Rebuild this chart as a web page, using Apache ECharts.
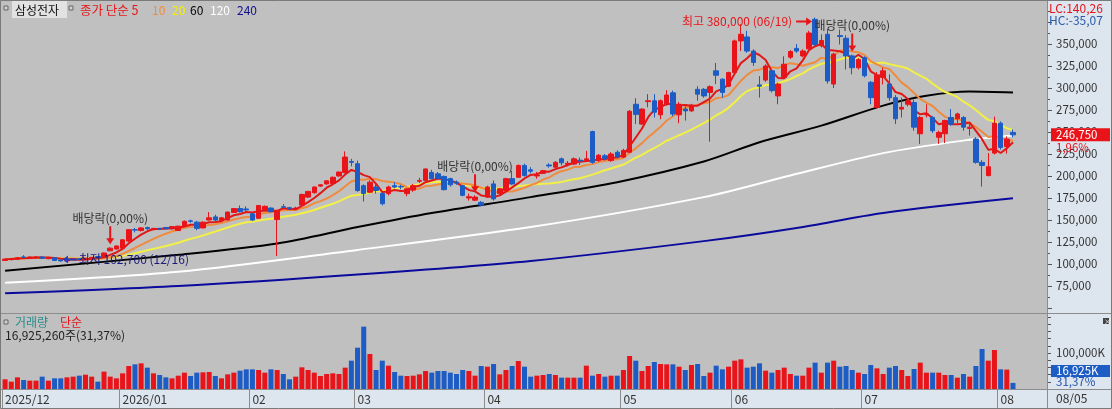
<!DOCTYPE html>
<html><head><meta charset="utf-8">
<script src="https://cdn.jsdelivr.net/npm/echarts@6/dist/echarts.min.js"></script>
<style>html,body{margin:0;padding:0;background:#c0c0c0}#c{width:1112px;height:409px}</style>
</head><body><div id="c"></div>
<script>
// ---- data (won) ----
const opens=[104000,105000,105500,108000,106500,107000,108000,106000,107000,104500,
103500,105000,106000,105000,106000,108500,108000,115000,117000,118000,
126000,139000,138000,141500,139000,140500,141500,140000,138000,142500,
149000,147500,141000,150000,153500,149500,150000,158500,163000,162500,
157000,152000,161500,163500,150500,165000,164000,162500,167000,176000,
181000,188500,191000,191500,200000,204000,216500,214000,189000,181500,
187500,180000,180000,189000,188000,180000,184000,194000,195000,204000,
202500,199500,197000,193000,189000,175000,172500,170000,176000,191000,
180000,183500,197000,198500,212000,207000,200000,203000,212500,210000,
219500,213000,213500,218000,218000,250500,217500,223000,217500,227000,
221500,227000,281500,259000,284500,285500,269500,281000,294500,269500,
276000,274000,298500,298500,295000,319500,310000,302000,317500,353500,
358000,342000,303500,309000,319500,291000,312000,335000,345000,336500,
344500,378000,348000,361000,304500,359500,356500,336500,323000,334500,
306500,278000,312000,304500,289000,276000,281500,283500,248000,269500,
266500,244000,248000,266500,265000,266500,254000,242000,215500,200500,
226000,260000,233500,249500];
const highs=[106000,106500,107500,110000,108500,108500,109000,108000,107500,105000,
105500,106500,106500,107000,108000,109000,113000,119000,121000,128000,
139500,141000,142000,142500,141000,141000,142000,143000,143500,149500,
150500,149000,148500,159000,156000,153500,159500,163500,166500,165500,
158000,167000,166500,164500,161500,168000,165000,165000,180000,183000,
188000,190500,195000,199500,205000,228000,219500,217500,190500,195000,
191000,181000,189000,193000,190000,186000,191000,198000,208500,207000,
204500,200500,198000,195000,190000,180000,178000,171500,189000,195000,
186500,198000,206000,213000,214000,210000,204500,207000,214500,217000,
221000,217000,221000,221000,228500,251500,225000,225000,227000,229000,
231000,275000,288500,277000,293000,293000,287000,297500,297000,284000,
279000,282000,302000,300000,303000,328500,311000,318500,355000,372500,
365000,344000,313500,327000,321000,306000,336000,343000,350000,344000,
365000,380000,361000,367000,340000,366500,360000,338000,334000,336000,
308000,318000,323000,315500,292000,289000,287000,287000,268000,281500,
268000,251500,264000,276000,272000,268000,259000,244000,218000,226000,
267500,262000,245000,253000];
const lows=[103500,104000,105000,106500,106000,106000,106000,105500,103500,102700,
103000,104500,104500,104500,105500,106500,107500,114500,116500,117500,
125000,136000,137000,139000,138500,138500,139000,139500,137500,142000,
147000,138500,140500,149500,149000,148500,149500,158000,158500,160000,
149000,151500,160500,158500,109000,162500,161000,161500,165500,175000,
180000,187500,190000,191000,199000,203000,211000,182000,171000,180500,
180000,166700,178000,186000,185000,177000,182000,192000,194000,196000,
196000,183500,188000,190000,177000,172000,171500,165500,175000,172000,
178000,182500,190000,198000,199500,203000,197000,202000,209500,209000,
212000,211000,212500,212500,216000,214000,216000,218000,216000,220000,
220500,226000,259000,258000,278000,266500,264500,280000,268000,260000,
263000,273000,285500,289000,239000,304500,289000,301000,316000,342000,
340000,325000,289000,307000,295000,281500,310000,333000,340000,335000,
343000,348000,346000,305000,300000,349500,321000,315500,321000,312000,
281500,277000,304000,285500,259000,266500,279000,251500,236500,266500,
249000,236500,237500,257000,260000,251500,246000,214000,188000,199500,
224500,230000,225500,244000];
const closes=[105500,106000,107000,107500,108000,108000,106500,107500,104000,103500,
105000,106000,105000,106500,107500,107000,112500,118000,120500,127500,
139000,138500,141000,140000,140500,139500,140000,142500,143000,148500,
148500,140500,147500,152500,150000,152500,159000,163000,159500,161500,
150000,166500,165500,159500,160500,164500,162500,163500,179000,182500,
187500,190000,194500,198500,204500,221500,215500,183500,180000,193000,
183500,168500,187500,187500,187500,185500,189000,195000,208000,197000,
197000,184500,190000,192000,178000,176500,176000,167000,187500,174000,
185500,197000,191000,212000,200500,205500,201000,206000,211500,215500,
215000,214500,219500,217000,219500,215500,223500,220000,225000,221500,
229000,273500,270000,276000,285500,272500,285500,292000,270500,281500,
274000,280500,293000,291000,301500,314500,295000,317500,353500,361000,
342000,329000,302000,325000,297000,304500,327000,341500,342000,342000,
362500,349500,354000,308000,338500,358500,336500,323000,332500,314000,
289000,314500,319500,289000,265000,278000,285500,255500,266500,270500,
251500,249500,263000,259000,270500,255500,255500,215500,212000,210500,
260000,232500,242000,246750];
// volume in thousands of shares
const volumes=[26900,20400,32400,25000,23200,23200,34300,23200,29600,29600,
32400,34300,37000,39800,34300,20400,48200,34300,29600,43500,
63900,68500,71300,59300,43500,38900,32400,29600,37000,45400,
36100,45400,46300,47200,36100,29600,40700,45400,50900,54600,
54600,52800,45400,54600,52800,41700,26900,34300,60200,52800,
45400,36100,41700,43500,41700,59300,78700,114800,173200,97200,
52800,78700,64800,47200,37000,36100,37000,40700,50000,45400,
50000,50000,45400,41700,52800,50000,37000,63900,62000,69400,
40700,52800,63900,77800,62000,34300,37000,38900,41700,38900,
31500,31500,31500,31500,64800,37000,41700,34300,37000,37000,
52800,91700,78700,50000,63900,75000,69400,68500,68500,62000,
52800,66700,69400,36100,45400,64800,54600,62000,78700,82400,
59300,62000,71300,50900,45400,52800,59300,41700,37000,37000,
59300,73200,45400,73200,78700,62000,63900,52800,45400,41700,
66700,57400,41700,59300,63900,52800,36100,55600,73200,45400,
45400,45400,38900,38900,31500,41700,34300,63900,111100,78700,
108300,54600,53954,16925.26];
// long moving averages at a few days: [dayIndex, value]
const ma60Pts=[[0,92300],[28,110500],[44,123300],[57,142000],[69,158000],[85,176000],[99,193000],[113,216500],[122,238300],[132,257200],[142,280000],[149,291200],[156,296000],[163,294900]];
const ma120Pts=[[0,78700],[28,91200],[57,116000],[85,142000],[113,176000],[127,200600],[142,226000],[155,240200],[163,246000]];
const ma240Pts=[[0,66700],[28,75000],[57,88000],[85,103500],[113,126000],[128,141000],[142,158000],[163,174600]];
const monthStarts=[0,19,40,57,78,100,118,139,161];
const monthLabels=['2025/12','2026/01','02','03','04','05','06','07','08'];
const exDivIdx=[17,76,137];
const highDate='06/19', lowDate='12/16', lastDate='08/05';

// ---- build ----
const FONT='"Noto Sans CJK KR","Noto Sans",sans-serif';
const RED='#e8141a', BLUE='#1c5cc4';
const N=closes.length, SLOTS=N+5;
const cats=[]; for(let i=0;i<SLOTS;i++) cats.push(String(i));
const candle=opens.map((o,i)=>[o,closes[i],lows[i],highs[i]]);
const up=i=>closes[i]>=opens[i];
const volData=volumes.map((v,i)=>({value:v,itemStyle:{color:up(i)?RED:BLUE}}));
function ma(n){return closes.map((c,i)=>{const s=Math.max(0,i-n+1);let sum=0;for(let k=s;k<=i;k++)sum+=closes[k];return Math.round(sum/(i-s+1));});}
const fmt=v=>Math.round(v).toLocaleString('en-US');
const dec=v=>v.toFixed(2).replace('.',',');
let hiI=0,loI=0;
for(let i=0;i<N;i++){if(highs[i]>highs[hiI])hiI=i;if(lows[i]<lows[loI])loI=i;}
const pts=a=>a.map(p=>[String(p[0]),p[1]]);
const isMonth=idx=>monthStarts.indexOf(idx)>=0;

const DOWN='path://M3,0 L5,0 L5,12 L8,12 L4,18 L0,12 L3,12 Z';
const RIGHT='path://M0,3 L10,3 L10,0 L16,4 L10,8 L10,5 L0,5 Z';
const LEFT='path://M16,3 L6,3 L6,0 L0,4 L6,8 L6,5 L16,5 Z';
const markData=[];
exDivIdx.forEach(i=>markData.push({coord:[String(i),highs[i]],symbol:DOWN,symbolSize:[8,18],symbolOffset:[0,-12],
  itemStyle:{color:RED},label:{show:true,position:'top',distance:2,formatter:'배당락(0,00%)',color:'#333',fontSize:12,fontFamily:FONT}}));
markData.push({coord:[String(hiI),highs[hiI]],symbol:RIGHT,symbolSize:[16,8],symbolOffset:[-11,4],itemStyle:{color:RED},
  label:{show:true,position:'left',distance:4,formatter:'최고 '+fmt(highs[hiI])+' ('+highDate+')',color:RED,fontSize:12,fontFamily:FONT}});
markData.push({coord:[String(loI),lows[loI]],symbol:LEFT,symbolSize:[14,8],symbolOffset:[9,-2],itemStyle:{color:'#2040c0'},
  label:{show:true,position:'right',distance:2,formatter:'최저 '+fmt(lows[loI])+' ('+lowDate+')',color:'#1a1a7a',fontSize:12,fontFamily:FONT}});

function lineS(name,data,color,smooth){return {type:'line',name,xAxisIndex:0,yAxisIndex:0,data,symbol:'none',smooth:smooth||false,
  lineStyle:{color,width:2},itemStyle:{color},silent:true,z:3};}

const chart=echarts.init(document.getElementById('c'));
chart.setOption({
  animation:false,
  backgroundColor:'#c0c0c0',
  textStyle:{fontFamily:FONT},
  grid:[{left:2,width:1045,top:-1,height:309},{left:2,width:1045,top:317,height:72}],
  xAxis:[
    {type:'category',gridIndex:0,data:cats,boundaryGap:true,axisLine:{show:false},axisTick:{show:false},axisLabel:{show:false},splitLine:{show:false}},
    {type:'category',gridIndex:1,data:cats,boundaryGap:true,axisLine:{show:false},
     axisTick:{show:true,interval:(i)=>isMonth(i),length:20,lineStyle:{color:'#8c8c8c'}},
     axisLabel:{interval:(i)=>isMonth(i),formatter:(v,i)=>{const k=monthStarts.indexOf(Number(v));return k>=0?monthLabels[k]:'';},
       align:'left',margin:4,color:'#333',fontSize:12,fontFamily:FONT},splitLine:{show:false}}
  ],
  yAxis:[
    {type:'value',gridIndex:0,position:'right',min:50000,max:400000,interval:25000,
     axisLine:{show:true,lineStyle:{color:'#8c8c8c'}},axisTick:{show:true,length:5,lineStyle:{color:'#555'}},
     minorTick:{show:true,splitNumber:2,length:3,lineStyle:{color:'#555'}},splitLine:{show:false},minorSplitLine:{show:false},
     axisLabel:{margin:9,color:'#333',fontSize:11.5,fontFamily:FONT,formatter:v=>(v>=75000&&v<=350000)?fmt(v):''}},
    {type:'value',gridIndex:1,position:'right',min:0,max:200000,interval:20000,
     axisLine:{show:true,lineStyle:{color:'#8c8c8c'}},axisTick:{show:true,length:4,lineStyle:{color:'#555'}},splitLine:{show:false},
     axisLabel:{margin:9,color:'#333',fontSize:11.5,fontFamily:FONT,formatter:v=>v===100000?fmt(v)+'K':''}}
  ],
  series:[
    lineS('MA240',pts(ma240Pts),'#0a0a9c',0.3),
    lineS('MA120',pts(ma120Pts),'#ffffff',0.3),
    lineS('MA60',pts(ma60Pts),'#000000',0.3),
    lineS('MA20',ma(20),'#f2f046'),
    lineS('MA10',ma(10),'#f08a3c'),
    lineS('MA5',ma(5),'#e01818'),
    {type:'candlestick',name:'price',xAxisIndex:0,yAxisIndex:0,data:candle,barWidth:5,silent:true,z:4,
     itemStyle:{color:RED,color0:BLUE,borderColor:RED,borderColor0:BLUE,borderWidth:1},
     markPoint:{data:markData,z:6,silent:true}},
    {type:'bar',name:'vol',xAxisIndex:1,yAxisIndex:1,data:volData,barWidth:5,silent:true}
  ]
});

const py=chart.convertToPixel({yAxisIndex:0},closes[N-1]);
const chg=(closes[N-1]/closes[N-2]-1)*100;
const vr=volumes[N-1]/volumes[N-2]*100;
const lc=(closes[N-1]/lows[loI]-1)*100, hc=(closes[N-1]/highs[hiI]-1)*100;
const T=(text,x,y,fill,size,extra)=>Object.assign({type:'text',z:20,style:{text,x,y,fill,font:(size||12)+'px '+FONT,verticalAlign:'middle',align:'left'}},extra||{});
const R=(x,y,w,h,fill,z)=>({type:'rect',z:z||0,shape:{x,y,width:w,height:h},style:{fill}});
const L=(x1,y1,x2,y2,c)=>({type:'line',z:1,shape:{x1,y1,x2,y2},style:{stroke:c||'#8c8c8c',lineWidth:1}});
const sq=(x,y)=>({type:'rect',z:20,shape:{x,y,width:4,height:4},style:{fill:'#d0d0d0',stroke:'#666',lineWidth:1}});
chart.setOption({graphic:{elements:[
  R(1047,0,65,409,'#dde5ee',0),
  R(0,389,1112,20,'#dde5ee',0),
  L(0,313.5,1112,313.5),L(0,389.5,1112,389.5),L(1047.5,0,1047.5,409),
  {type:'rect',z:1,shape:{x:0.5,y:0.5,width:1111,height:408},style:{fill:'none',stroke:'#7a7a7a',lineWidth:1}},
  // legend
  sq(4,6),
  R(12,1,55,17,'#e2e2e2',19),
  T('삼성전자',15,10,'#111'),
  sq(69,6),
  T('종가 단순 5',80,10,RED,12.5),
  T('10',152,10,'#f08a3c'),
  T('20',172,10,'#f2f000'),
  T('60',190,10,'#000'),
  T('120',210,10,'#fff'),
  T('240',237,10,'#101090'),
  // volume legend
  sq(4,320),
  T('거래량',15,322,'#2a8c8c'),
  T('단순',60,322,RED),
  T(fmt(volumes[N-1]*1000)+'주('+dec(vr)+'%)',5,335,'#222'),
  // right side
  T('LC:'+dec(lc),1049,8,RED),
  T('HC:'+dec(hc),1049,20,'#2a5aa8'),
  R(1051,py-6.5,59,13,RED,19),
  T(fmt(closes[N-1]),1056,py,'#fff',11.5),
  T(dec(chg)+'%',1056,py+13,RED,11.5),
  R(1051,365,59,12,BLUE,19),
  T(fmt(volumes[N-1])+'K',1056,371,'#fff',11.5),
  T(dec(vr)+'%',1056,382,'#2050b0',11.5),
  R(1103,318,6,6,'#444',19),
  T('×',1104,321,'#fff',7),
  T(lastDate,1056,398,'#333',12)
]}});
</script></body></html>
